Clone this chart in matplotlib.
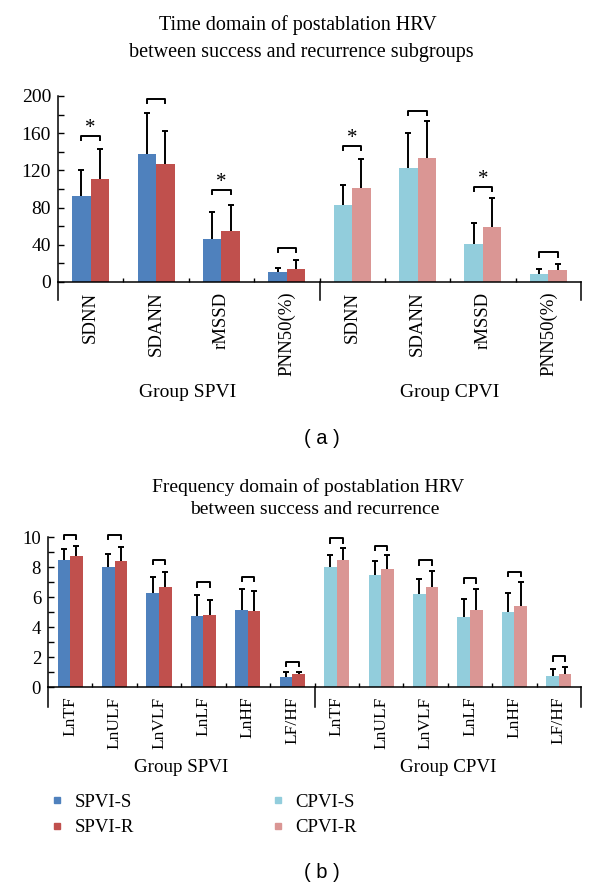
import matplotlib
matplotlib.use('Agg')
import matplotlib.pyplot as plt
from matplotlib.lines import Line2D
import numpy as np

# panel (a): time domain
time_labels = ['SDNN', 'SDANN', 'rMSSD', 'PNN50(%)']
spvi_s_time = [92, 138, 46.6, 10.4]
spvi_s_time_err = [28.5, 43.4, 29, 5]
spvi_r_time = [111, 127, 54.5, 13.6]
spvi_r_time_err = [31.7, 35.4, 28.5, 9.7]
cpvi_s_time = [82.4, 122.9, 40.5, 8.6]
cpvi_s_time_err = [22.3, 37.1, 22.5, 5]
cpvi_r_time = [100.7, 133.7, 59, 12.9]
cpvi_r_time_err = [31.3, 39.3, 31, 6.1]
time_bracket = [157, 197, 99, 37, 146.6, 184, 102.5, 32]
time_star = [True, False, True, False, True, False, True, False]

# panel (b): frequency domain
freq_labels = ['LnTF', 'LnULF', 'LnVLF', 'LnLF', 'LnHF', 'LF/HF']
spvi_s_freq = [8.49, 8.0, 6.29, 4.73, 5.15, 0.69]
spvi_s_freq_err = [0.73, 0.87, 1.04, 1.38, 1.40, 0.29]
spvi_r_freq = [8.75, 8.4, 6.64, 4.82, 5.07, 0.84]
spvi_r_freq_err = [0.67, 0.95, 1.03, 0.98, 1.35, 0.16]
cpvi_s_freq = [8.0, 7.47, 6.2, 4.64, 4.97, 0.75]
cpvi_s_freq_err = [0.77, 0.9, 1.02, 1.2, 1.27, 0.43]
cpvi_r_freq = [8.47, 7.87, 6.64, 5.13, 5.4, 0.87]
cpvi_r_freq_err = [0.77, 0.93, 1.09, 1.42, 1.62, 0.48]
freq_bracket = [10.15, 10.15, 8.5, 7.0, 7.35, 1.69, 9.93, 9.42, 8.44, 7.24, 7.69, 2.04]

groups = ['Group SPVI', 'Group CPVI']
series = ['SPVI-S', 'SPVI-R', 'CPVI-S', 'CPVI-R']
colors = ['#4F81BD', '#C0504D', '#92CDDC', '#DA9694']

serif = 'Liberation Serif'
W, H = 600, 890


def fx(px):
    return px / W


def fy(py):
    return 1 - py / H


def upper_err(ax, xs, vals, errs):
    tops = np.array(vals) + np.array(errs)
    ax.vlines(xs, vals, tops, color='black', lw=1.4, zorder=3)
    ax.plot(xs, tops, ls='none', marker='_', markersize=5, mew=1.4, color='black',
            zorder=3, clip_on=False)


def draw_panel(ax, labels, s_spvi, e_spvi, r_spvi, er_spvi, s_cpvi, e_cpvi, r_cpvi, er_cpvi,
               brackets, stars, ymax, ystep, minor, tick_fs, lab_fs, sep_px, px_h):
    n = len(labels)
    x = np.arange(2 * n)
    w = 0.283
    blue = list(s_spvi) + list(s_cpvi)
    red = list(r_spvi) + list(r_cpvi)
    blue_err = list(e_spvi) + list(e_cpvi)
    red_err = list(er_spvi) + list(er_cpvi)
    bcol = [colors[0]] * n + [colors[2]] * n
    rcol = [colors[1]] * n + [colors[3]] * n
    ax.bar(x - w / 2, blue, w, color=bcol, zorder=2)
    ax.bar(x + w / 2, red, w, color=rcol, zorder=2)
    upper_err(ax, x - w / 2, blue, blue_err)
    upper_err(ax, x + w / 2, red, red_err)

    depth = 4.5 / px_h * ymax
    for i, b in enumerate(brackets):
        ax.plot([x[i] - w / 2, x[i] - w / 2, x[i] + w / 2, x[i] + w / 2],
                [b - depth, b, b, b - depth], color='black', lw=1.4, clip_on=False)
        if stars is not None and stars[i]:
            ax.text(x[i], b + 3 / px_h * ymax, '*', ha='center', va='baseline',
                    fontsize=15, family=serif)

    ax.set_xlim(-0.5, 2 * n - 0.5)
    ax.set_ylim(0, ymax)
    ax.set_yticks(np.arange(0, ymax + 0.1, ystep))
    ax.set_yticks(np.arange(0, ymax + 0.1, minor), minor=True)
    ax.set_yticklabels([f'{v:g}' for v in np.arange(0, ymax + 0.1, ystep)],
                       family=serif, fontsize=tick_fs)
    ax.set_xticks(x)
    ax.set_xticklabels(labels + labels, rotation=90, family=serif, fontsize=lab_fs,
                       va='top')
    ax.set_xticks(np.arange(0.5, 2 * n - 1, 1), minor=True)
    ax.tick_params(axis='x', which='major', length=0, pad=7)
    ax.tick_params(axis='x', which='minor', direction='in', length=3, width=1)
    ax.tick_params(axis='y', which='both', direction='in', length=4, width=1, pad=5)
    for s in ['top', 'right']:
        ax.spines[s].set_visible(False)
    for s in ['left', 'bottom']:
        ax.spines[s].set_linewidth(1.1)
    tr = ax.get_xaxis_transform()
    for xs in [-0.5, n - 0.5, 2 * n - 0.5]:
        ax.plot([xs, xs], [0, -sep_px / px_h], color='black', lw=1.1,
                transform=tr, clip_on=False)


fig = plt.figure(figsize=(6, 8.9), dpi=100, facecolor='white')

# (a)
ax1 = fig.add_axes([fx(58), fy(282), fx(523), 186 / H])
draw_panel(ax1, time_labels, spvi_s_time, spvi_s_time_err, spvi_r_time, spvi_r_time_err,
           cpvi_s_time, cpvi_s_time_err, cpvi_r_time, cpvi_r_time_err,
           time_bracket, time_star, 200, 40, 20, 14, 13.5, 18, 186)
fig.text(fx(298), fy(25), 'Time domain of postablation HRV', ha='center', va='center',
         family=serif, fontsize=14.5)
fig.text(fx(301), fy(53), 'between success and recurrence subgroups', ha='center',
         va='center', family=serif, fontsize=14.5)
fig.text(fx(188), fy(392), groups[0], ha='center', va='center', family=serif, fontsize=14)
fig.text(fx(450), fy(392), groups[1], ha='center', va='center', family=serif, fontsize=14)
fig.text(fx(322), fy(439), '( a )', ha='center', va='center', family='Liberation Sans',
         fontsize=14.5)

# (b)
ax2 = fig.add_axes([fx(48), fy(687), fx(533), 150 / H])
draw_panel(ax2, freq_labels, spvi_s_freq, spvi_s_freq_err, spvi_r_freq, spvi_r_freq_err,
           cpvi_s_freq, cpvi_s_freq_err, cpvi_r_freq, cpvi_r_freq_err,
           freq_bracket, None, 10, 2, 1, 13.5, 12.5, 20, 150)
fig.text(fx(308), fy(487), 'Frequency domain of postablation HRV', ha='center',
         va='center', family=serif, fontsize=14)
fig.text(fx(315), fy(510), 'between success and recurrence', ha='center', va='center',
         family=serif, fontsize=14)
fig.text(fx(181), fy(768), groups[0], ha='center', va='center', family=serif, fontsize=13.7)
fig.text(fx(448), fy(768), groups[1], ha='center', va='center', family=serif, fontsize=13.7)
fig.text(fx(322), fy(873), '( b )', ha='center', va='center', family='Liberation Sans',
         fontsize=14.5)

handles = [Line2D([], [], marker='s', ls='none', color=c, markersize=4.5) for c in colors]
fig.legend(handles, series, ncol=2, loc='center left', bbox_to_anchor=(fx(33), fy(815)),
           frameon=False, prop={'family': serif, 'size': 13.5}, handlelength=0.8,
           handletextpad=0.5, columnspacing=7.3, labelspacing=0.45)

plt.savefig('out.png', dpi=100)
